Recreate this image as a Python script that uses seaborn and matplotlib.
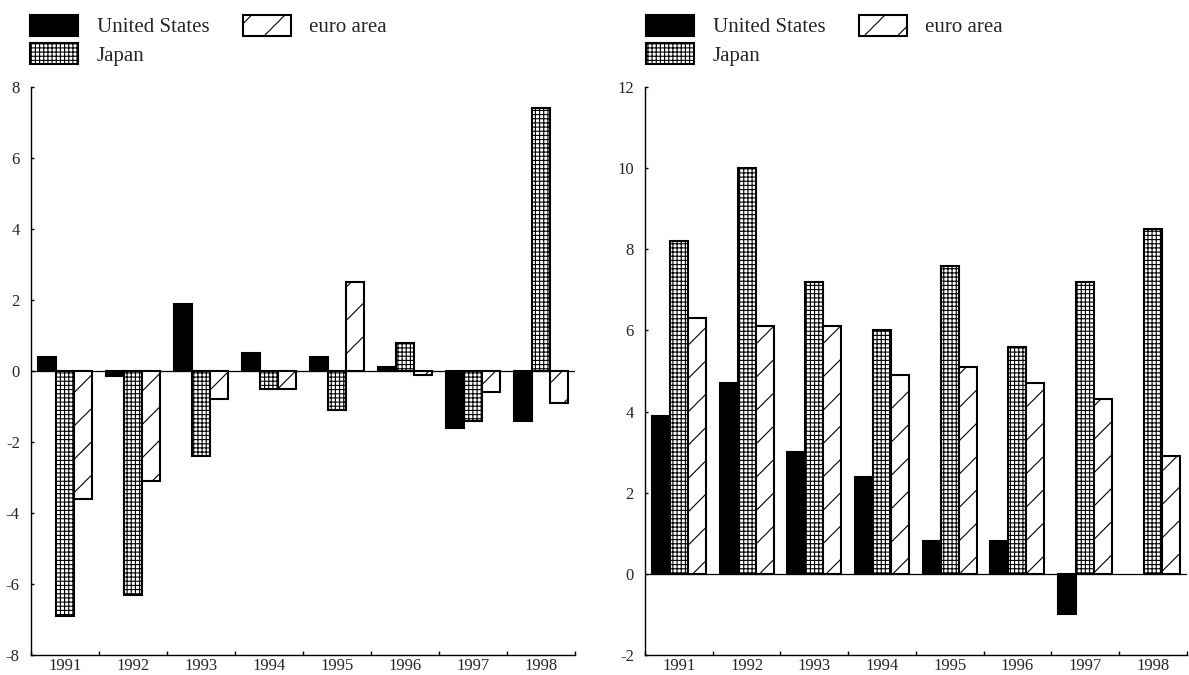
import numpy as np
import pandas as pd
import seaborn as sns
import matplotlib.pyplot as plt
from matplotlib.patches import Patch

# values
years = ["1991", "1992", "1993", "1994", "1995", "1996", "1997", "1998"]
series = ["United States", "Japan", "euro area"]

left_us = [0.4, -0.15, 1.9, 0.5, 0.4, 0.1, -1.6, -1.4]
left_japan = [-6.9, -6.3, -2.4, -0.5, -1.1, 0.8, -1.4, 7.4]
left_euro = [-3.6, -3.1, -0.8, -0.5, 2.5, -0.1, -0.6, -0.9]

right_us = [3.9, 4.7, 3.0, 2.4, 0.8, 0.8, -1.0, np.nan]
right_japan = [8.2, 10.0, 7.2, 6.0, 7.6, 5.6, 7.2, 8.5]
right_euro = [6.3, 6.1, 6.1, 4.9, 5.1, 4.7, 4.3, 2.9]

left_ticks = [-8, -6, -4, -2, 0, 2, 4, 6, 8]
right_ticks = [-2, 0, 2, 4, 6, 8, 10, 12]

colors = ["black", "white", "white"]
hatches = ["", "++++", "/"]

sns.set_style("white")
plt.rcParams["font.family"] = ["Liberation Serif", "DejaVu Serif"]
plt.rcParams["hatch.linewidth"] = 0.8


def long_frame(us, jp, eu):
    rows = []
    for name, vals in zip(series, [us, jp, eu]):
        for y, v in zip(years, vals):
            rows.append({"year": y, "series": name, "value": v})
    return pd.DataFrame(rows)


def draw_panel(fig, ax, df, ticks, legend_x):
    sns.barplot(data=df, x="year", y="value", hue="series", order=years,
                hue_order=series, palette=colors, edgecolor="black",
                linewidth=1.5, width=0.8, saturation=1, ax=ax, legend=False)
    for cont, h in zip(ax.containers, hatches):
        for p in cont:
            p.set_hatch(h)
    ax.axhline(0, color="black", lw=0.9, zorder=0.5)
    ax.set_xlim(-0.5, 7.5)
    ax.set_ylim(ticks[0], ticks[-1])
    ax.set_yticks(ticks)
    ax.set_yticklabels([str(t) for t in ticks])
    ax.set_xticks(np.arange(-0.5, 8, 1), minor=True)
    ax.tick_params(axis="x", which="major", length=0, labelsize=12, pad=2)
    ax.tick_params(axis="x", which="minor", direction="in", length=3,
                   width=1, color="black", bottom=True)
    ax.tick_params(axis="y", direction="in", length=2, width=1,
                   color="black", left=True, labelsize=12, pad=8)
    ax.set_xlabel("")
    ax.set_ylabel("")
    sns.despine(ax=ax)
    for s in ["left", "bottom"]:
        ax.spines[s].set_color("black")
        ax.spines[s].set_linewidth(1)

    handles = [Patch(facecolor=c, edgecolor="black", hatch=h, linewidth=1.5)
               for c, h in zip(colors, hatches)]
    fig.legend(handles, series, loc="upper left",
               bbox_to_anchor=(legend_x, 0.978), ncol=2, frameon=False,
               fontsize=15, handlelength=2.3, handleheight=1.15,
               handletextpad=0.9, columnspacing=1.6, labelspacing=0.3,
               borderaxespad=0, borderpad=0)


fig = plt.figure(figsize=(11.89, 6.75), dpi=100)
ax1 = fig.add_axes([0.026, 0.0296, 0.4576, 0.8415])
ax2 = fig.add_axes([0.5425, 0.0296, 0.4555, 0.8415])

draw_panel(fig, ax1, long_frame(left_us, left_japan, left_euro), left_ticks, 0.0252)
draw_panel(fig, ax2, long_frame(right_us, right_japan, right_euro), right_ticks, 0.5433)

fig.savefig("out.png", dpi=100)
